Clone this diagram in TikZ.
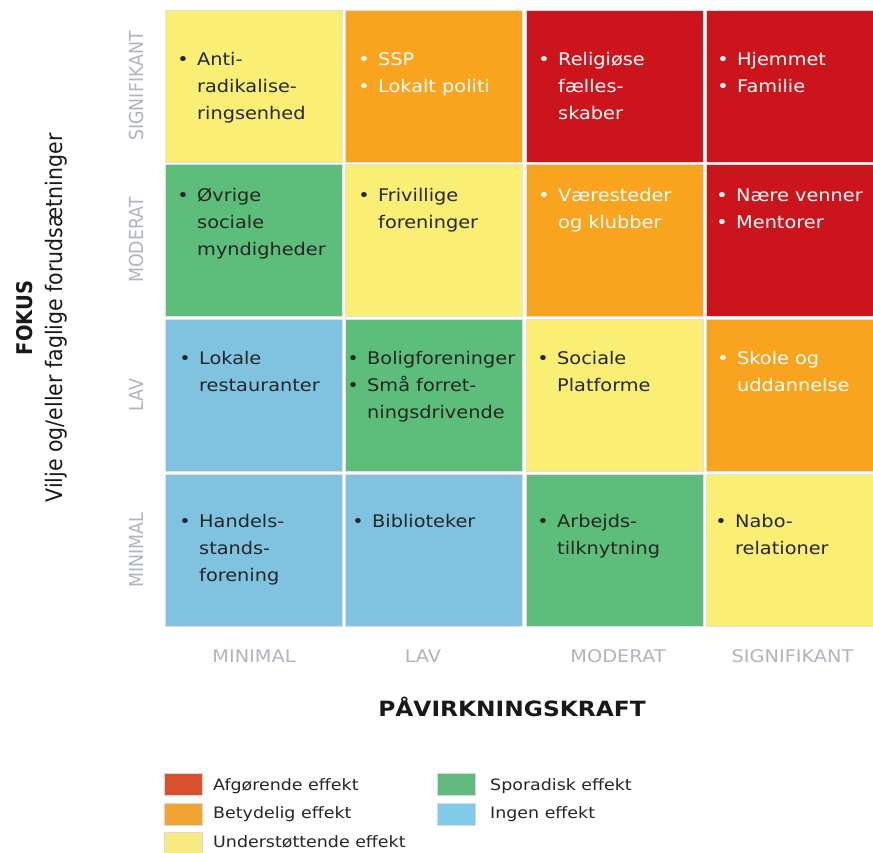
\documentclass[tikz,border=0pt]{standalone}
\usepackage{fontspec}
\setmainfont{DejaVu Sans}[FakeStretch=1.11]
\newfontfamily\uprightf{DejaVu Sans}
\usepackage{graphicx}
\definecolor{cyel}{RGB}{250,238,117}
\definecolor{corg}{RGB}{249,164,30}
\definecolor{cred}{RGB}{204,20,28}
\definecolor{cgrn}{RGB}{92,190,122}
\definecolor{cblu}{RGB}{128,195,224}
\definecolor{lred}{RGB}{217,80,47}
\definecolor{lorg}{RGB}{240,164,50}
\definecolor{lyel}{RGB}{245,233,128}
\definecolor{lgrn}{RGB}{96,186,128}
\definecolor{lblu}{RGB}{128,202,234}
\definecolor{axg}{RGB}{176,180,190}
\definecolor{dtxt}{RGB}{38,38,38}
\newcommand\bitem[5]{%
  \node[bul,#4] (#1b) at (#2-14,#3) {•};
  \node[itxt,#4] (#1) at (#2,#3) {#5};}
\newcommand\citem[5]{%
  \node[itxt,#4] (#1) at (#2,#3) {#5};}
\begin{document}
\begin{tikzpicture}[x=1pt,y=-1pt,
  cellbox/.style={rectangle, inner sep=0pt, outer sep=0pt, anchor=north west,
    minimum width=177pt, minimum height=152pt, draw=black!12, line width=0.6pt},
  itxt/.style={inner sep=0pt, anchor=base west, font=\fontsize{17.4}{20}\selectfont},
  bul/.style={inner sep=0pt, anchor=base, font=\fontsize{17.4}{20}\selectfont},
  dk/.style={text=dtxt},
  wt/.style={text=white},
  ylab/.style={inner sep=0pt, anchor=base, rotate=90, text=axg, font=\uprightf\fontsize{17.4}{20}\selectfont},
  xlab/.style={inner sep=0pt, anchor=base, text=axg, font=\fontsize{17.4}{20}\selectfont},
  swatch/.style={rectangle, inner sep=0pt, outer sep=0pt, anchor=north west,
    minimum width=38pt, minimum height=22pt, draw=white!85!black, line width=0.4pt},
  legtxt/.style={inner sep=0pt, anchor=base west, text=dtxt, font=\fontsize{15.7}{18}\selectfont}
]
\useasboundingbox[fill=white] (0,0) rectangle (873,852);

% grid cells
\node[cellbox, fill=cyel] (c11) at (165,10) {};
\node[cellbox, fill=corg] (c12) at (345.5,10) {};
\node[cellbox, fill=cred] (c13) at (526,10) {};
\node[cellbox, fill=cred] (c14) at (706.5,10) {};
\node[cellbox, fill=cgrn] (c21) at (165,164) {};
\node[cellbox, fill=cyel] (c22) at (345.5,164) {};
\node[cellbox, fill=corg] (c23) at (526,164) {};
\node[cellbox, fill=cred] (c24) at (706.5,164) {};
\node[cellbox, fill=cblu] (c31) at (165,319) {};
\node[cellbox, fill=cgrn] (c32) at (345.5,319) {};
\node[cellbox, fill=cyel] (c33) at (526,319) {};
\node[cellbox, fill=corg] (c34) at (706.5,319) {};
\node[cellbox, fill=cblu] (c41) at (165,474) {};
\node[cellbox, fill=cblu] (c42) at (345.5,474) {};
\node[cellbox, fill=cgrn] (c43) at (526,474) {};
\node[cellbox, fill=cyel] (c44) at (706.5,474) {};

% row 1
\bitem{t11a}{197}{65}{dk}{Anti-}
\citem{t11b}{197}{92}{dk}{radikalise-}
\citem{t11c}{197}{119}{dk}{ringsenhed}
\bitem{t12a}{378}{65}{wt}{SSP}
\bitem{t12b}{378}{92}{wt}{Lokalt politi}
\bitem{t13a}{558}{65}{wt}{Religiøse}
\citem{t13b}{558}{92}{wt}{fælles-}
\citem{t13c}{558}{119}{wt}{skaber}
\bitem{t14a}{737}{65}{wt}{Hjemmet}
\bitem{t14b}{737}{92}{wt}{Familie}
% row 2
\bitem{t21a}{197}{201}{dk}{Øvrige}
\citem{t21b}{197}{228}{dk}{sociale}
\citem{t21c}{197}{255}{dk}{myndigheder}
\bitem{t22a}{378}{201}{dk}{Frivillige}
\citem{t22b}{378}{228}{dk}{foreninger}
\bitem{t23a}{558}{201}{wt}{Væresteder}
\citem{t23b}{558}{228}{wt}{og klubber}
\bitem{t24a}{736}{201}{wt}{Nære venner}
\bitem{t24b}{736}{228}{wt}{Mentorer}
% row 3
\bitem{t31a}{199}{364}{dk}{Lokale}
\citem{t31b}{199}{391}{dk}{restauranter}
\bitem{t32a}{367}{364}{dk}{Boligforeninger}
\bitem{t32b}{367}{391}{dk}{Små forret-}
\citem{t32c}{367}{418}{dk}{ningsdrivende}
\bitem{t33a}{557}{364}{dk}{Sociale}
\citem{t33b}{557}{391}{dk}{Platforme}
\bitem{t34a}{737}{364}{wt}{Skole og}
\citem{t34b}{737}{391}{wt}{uddannelse}
% row 4
\bitem{t41a}{199}{527}{dk}{Handels-}
\citem{t41b}{199}{554}{dk}{stands-}
\citem{t41c}{199}{581}{dk}{forening}
\bitem{t42a}{372}{527}{dk}{Biblioteker}
\bitem{t43a}{557}{527}{dk}{Arbejds-}
\citem{t43b}{557}{554}{dk}{tilknytning}
\bitem{t44a}{735}{527}{dk}{Nabo-}
\citem{t44b}{735}{554}{dk}{relationer}

% y-axis level labels
\node[ylab] (y1) at (143,86) {\scalebox{1}[1.11]{SIGNIFIKANT}};
\node[ylab] (y2) at (143,240) {\scalebox{1}[1.11]{MODERAT}};
\node[ylab] (y3) at (143,395) {\scalebox{1}[1.11]{LAV}};
\node[ylab] (y4) at (143,550) {\scalebox{1}[1.11]{MINIMAL}};

% x-axis level labels
\node[xlab] (x1) at (254,662.5) {MINIMAL};
\node[xlab] (x2) at (423,662.5) {LAV};
\node[xlab] (x3) at (618,662.5) {MODERAT};
\node[xlab] (x4) at (792.5,662.5) {SIGNIFIKANT};

% axis titles
\node[inner sep=0pt, anchor=base, rotate=90, text=black!90,
  font=\uprightf\bfseries\fontsize{19.5}{22}\selectfont] (fokus) at (32,318) {\scalebox{1}[1.11]{FOKUS}};
\node[inner sep=0pt, anchor=base, rotate=90, text=black!90,
  font=\uprightf\fontsize{20.5}{24}\selectfont] (vilje) at (62,318) {\scalebox{1}[1.11]{Vilje og/eller faglige forudsætninger}};
\node[inner sep=0pt, anchor=base, text=black!90,
  font=\bfseries\fontsize{21}{24}\selectfont] (pavirk) at (512,716.5) {PÅVIRKNINGSKRAFT};

% legend
\node[swatch, fill=lred] (s1) at (164,773) {};
\node[swatch, fill=lorg] (s2) at (164,803) {};
\node[swatch, fill=lyel] (s3) at (164,832) {};
\node[swatch, fill=lgrn] (s4) at (437,773) {};
\node[swatch, fill=lblu] (s5) at (437,803) {};
\node[legtxt] (l1) at (213,790) {Afgørende effekt};
\node[legtxt] (l2) at (213,818) {Betydelig effekt};
\node[legtxt] (l3) at (213,847) {Understøttende effekt};
\node[legtxt] (l4) at (490,790) {Sporadisk effekt};
\node[legtxt] (l5) at (490,818) {Ingen effekt};
\end{tikzpicture}
\end{document}
